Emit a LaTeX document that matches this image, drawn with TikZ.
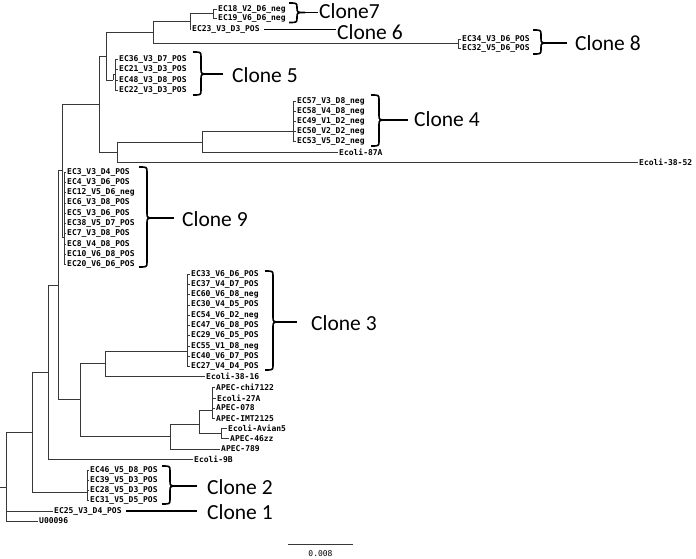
\documentclass[tikz,border=0pt]{standalone}
\usepackage{fontspec}
\setmainfont{Carlito}
\newfontfamily\leaffont{DejaVu Sans Mono}
\newcommand\clbrace[5]{% name, left x, top y, bottom y, mid y
  \draw[bracestyle] (#2,#3) .. controls ({#2+8},#3) .. ({#2+8},{#3+5}) -- ({#2+8},{#5-5})
    .. controls ({#2+8},#5) .. ({#2+16},#5)
    .. controls ({#2+8},#5) .. ({#2+8},{#5+5}) -- ({#2+8},{#4-5})
    .. controls ({#2+8},#4) .. (#2,#4);
  \coordinate (#1) at ({#2+16},#5);}
\begin{document}
\begin{tikzpicture}[x=1pt,y=-1pt,
  branch/.style={draw=black!78, line width=0.8pt},
  leaf/.style={anchor=west, inner xsep=1pt, inner ysep=0pt, font=\leaffont\bfseries\fontsize{8}{8}\selectfont},
  clone/.style={anchor=west, inner sep=0pt, font=\fontsize{21.5}{22}\selectfont},
  bracestyle/.style={draw=black, line width=1.6pt, line join=round},
  link/.style={draw=black, line width=1.6pt}]
\useasboundingbox (0,0) rectangle (696,559);

% ---------- leaves ----------
\node[leaf] (l18) at (217,9) {EC18\_V2\_D6\_neg};
\node[leaf] (l19) at (217,18.5) {EC19\_V6\_D6\_neg};
\node[leaf] (l23) at (191,29.5) {EC23\_V3\_D3\_POS};
\node[leaf] (l34) at (461,39) {EC34\_V3\_D6\_POS};
\node[leaf] (l32) at (461,48) {EC32\_V5\_D6\_POS};
\node[leaf] (l36) at (118,59) {EC36\_V3\_D7\_POS};
\node[leaf] (l21) at (118,69.5) {EC21\_V3\_D3\_POS};
\node[leaf] (l48) at (118,80) {EC48\_V3\_D8\_POS};
\node[leaf] (l22) at (118,90) {EC22\_V3\_D3\_POS};
\node[leaf] (l57) at (296,101) {EC57\_V3\_D8\_neg};
\node[leaf] (l58) at (296,111) {EC58\_V4\_D8\_neg};
\node[leaf] (l49) at (296,121) {EC49\_V1\_D2\_neg};
\node[leaf] (l50) at (296,131) {EC50\_V2\_D2\_neg};
\node[leaf] (l53) at (296,141) {EC53\_V5\_D2\_neg};
\node[leaf] (l87A) at (338,152) {Ecoli-87A};
\node[leaf] (l3852) at (638,162.5) {Ecoli-38-52};
% clone 9
\foreach \t [count=\i from 0] in {EC3\_V3\_D4\_POS,EC4\_V3\_D6\_POS,EC12\_V5\_D6\_neg,EC6\_V3\_D8\_POS,EC5\_V3\_D6\_POS,EC38\_V5\_D7\_POS,EC7\_V3\_D8\_POS,EC8\_V4\_D8\_POS,EC10\_V6\_D8\_POS,EC20\_V6\_D6\_POS}
  \node[leaf] (k\i) at (66,{172+\i*10.3}) {\t};
% clone 3
\foreach \t [count=\i from 0] in {EC33\_V6\_D6\_POS,EC37\_V4\_D7\_POS,EC60\_V6\_D8\_neg,EC30\_V4\_D5\_POS,EC54\_V6\_D2\_neg,EC47\_V6\_D8\_POS,EC29\_V6\_D5\_POS,EC55\_V1\_D8\_neg,EC40\_V6\_D7\_POS,EC27\_V4\_D4\_POS}
  \node[leaf] (m\i) at (190,{274+\i*10.3}) {\t};
\node[leaf] (l3816) at (205,376) {Ecoli-38-16};
\node[leaf] (lchi) at (215,387.5) {APEC-chi7122};
\node[leaf] (l27A) at (216,398) {Ecoli-27A};
\node[leaf] (l078) at (215,408) {APEC-078};
\node[leaf] (limt) at (215,418.5) {APEC-IMT2125};
\node[leaf] (lav5) at (227,428.5) {Ecoli-Avian5};
\node[leaf] (l46) at (229,438.5) {APEC-46zz};
\node[leaf] (l789) at (220,449) {APEC-789};
\node[leaf] (l9B) at (193,459) {Ecoli-9B};
\node[leaf] (l46b) at (89,470) {EC46\_V5\_D8\_POS};
\node[leaf] (l39) at (89,480) {EC39\_V5\_D3\_POS};
\node[leaf] (l28) at (89,490) {EC28\_V5\_D3\_POS};
\node[leaf] (l31) at (89,500.5) {EC31\_V5\_D5\_POS};
\node[leaf] (l25) at (53,511) {EC25\_V3\_D4\_POS};
\node[leaf] (lU) at (38,521) {U00096};

% ---------- internal nodes ----------
\coordinate (n7) at (213,13.7);
\coordinate (n76) at (190,21);
\coordinate (n768) at (153,32);
\coordinate (n8) at (458,43.5);
\coordinate (n5a) at (106,56);
\coordinate (n5b) at (113,80);
\coordinate (n5) at (115,74);
\coordinate (N1) at (99,104);
\coordinate (n4all) at (117,152);
\coordinate (n4) at (202,142);
\coordinate (n4c) at (293,131);
\coordinate (R) at (62,170);
\coordinate (n9) at (64,237);
\coordinate (P) at (58,285);
\coordinate (Q) at (48,372);
\coordinate (S) at (32,432);
\coordinate (n2) at (87,492);
\coordinate (root) at (6,487);
\coordinate (rootstub) at (0,487);
\coordinate (n3A) at (80,399);
\coordinate (n3B) at (105,363);
\coordinate (n3) at (187,351);
\coordinate (nAP) at (170,436);
\coordinate (nA1) at (199,424);
\coordinate (nA2) at (212,410);
\coordinate (nAv) at (221,433);

% ---------- branches ----------
\draw[branch] (rootstub) -- (root);
\draw[branch] (root) |- (S) (root) |- (l25.west) (root) |- (lU.west);
\draw[branch] (S) |- (Q) (S) |- (n2);
\foreach \x in {l46b,l39,l28,l31} \draw[branch] (n2) |- (\x.west);
\draw[branch] (Q) |- (P) (Q) |- (l9B.west);
\draw[branch] (P) |- (R) (P) |- (n3A);
\draw[branch] (R) |- (N1) (R) |- (n9);
\foreach \i in {0,...,9} \draw[branch] (n9) |- (k\i.west);
\draw[branch] (N1) |- (n5a) (N1) |- (n4all);
\draw[branch] (n5a) |- (n768) (n5a) |- (n5b);
\draw[branch] (n5b) |- (n5);
\foreach \x in {l36,l21,l48,l22} \draw[branch] (n5) |- (\x.west);
\draw[branch] (n768) |- (n76) (n768) |- (n8);
\draw[branch] (n76) |- (n7) (n76) |- (l23.west);
\draw[branch] (n7) |- (l18.west) (n7) |- (l19.west);
\draw[branch] (n8) |- (l34.west) (n8) |- (l32.west);
\draw[branch] (n4all) |- (n4) (n4all) |- (l3852.west);
\draw[branch] (n4) |- (n4c) (n4) |- (l87A.west);
\foreach \x in {l57,l58,l49,l50,l53} \draw[branch] (n4c) |- (\x.west);
\draw[branch] (n3A) |- (n3B) (n3A) |- (nAP);
\draw[branch] (n3B) |- (n3) (n3B) |- (l3816.west);
\foreach \i in {0,...,9} \draw[branch] (n3) |- (m\i.west);
\draw[branch] (nAP) |- (nA1) (nAP) |- (l789.west);
\draw[branch] (nA1) |- (nA2) (nA1) |- (nAv);
\foreach \x in {lchi,l27A,l078,limt} \draw[branch] (nA2) |- (\x.west);
\draw[branch] (nAv) |- (lav5.west) (nAv) |- (l46.west);

% ---------- clone labels ----------
\node[clone] (c7) at (319,11.5) {Clone7};
\node[clone] (c6) at (337,32) {Clone 6};
\node[clone] (c8) at (575,43.5) {Clone 8};
\node[clone] (c5) at (232,75) {Clone 5};
\node[clone] (c4) at (414,119.5) {Clone 4};
\node[clone] (c9) at (182,219) {Clone 9};
\node[clone] (c3) at (311,323.5) {Clone 3};
\node[clone] (c2) at (207,487) {Clone 2};
\node[clone] (c1) at (207,512.5) {Clone 1};

\clbrace{t7}{289}{3}{22.5}{12.5}
\draw[link] (t7) -- ([xshift=-1pt]c7.west |- t7);
\draw[link, shorten <=3pt] (l23.east) -- ([xshift=-1pt]c6.west |- l23.east);
\clbrace{t8}{533}{30}{54}{43}
\draw[link] (t8) -- ([xshift=-8pt]c8.west |- t8);
\clbrace{t5}{193}{52}{95}{74}
\draw[link] (t5) -- ([xshift=-9pt]c5.west |- t5);
\clbrace{t4}{371}{95}{146}{120}
\draw[link] (t4) -- ([xshift=-6pt]c4.west |- t4);
\clbrace{t9}{139}{167}{267}{218}
\draw[link] (t9) -- ([xshift=-8pt]c9.west |- t9);
\clbrace{t3}{265}{271}{370}{322}
\draw[link] (t3) -- ([xshift=-14pt]c3.west |- t3);
\clbrace{t2}{162}{466}{504}{486}
\draw[link] (t2) -- ([xshift=-10pt]c2.west |- t2);
\draw[link, shorten <=3pt] (l25.east) -- ([xshift=-10pt]c1.west |- l25.east);

% ---------- scale bar ----------
\coordinate (sb1) at (288,544);
\coordinate (sb2) at (353,544);
\draw[branch] (sb1) -- (sb2);
\node[font=\leaffont\fontsize{8}{8}\selectfont, inner sep=0pt] (sbl) at (320.5,554) {0.008};
\end{tikzpicture}
\end{document}
